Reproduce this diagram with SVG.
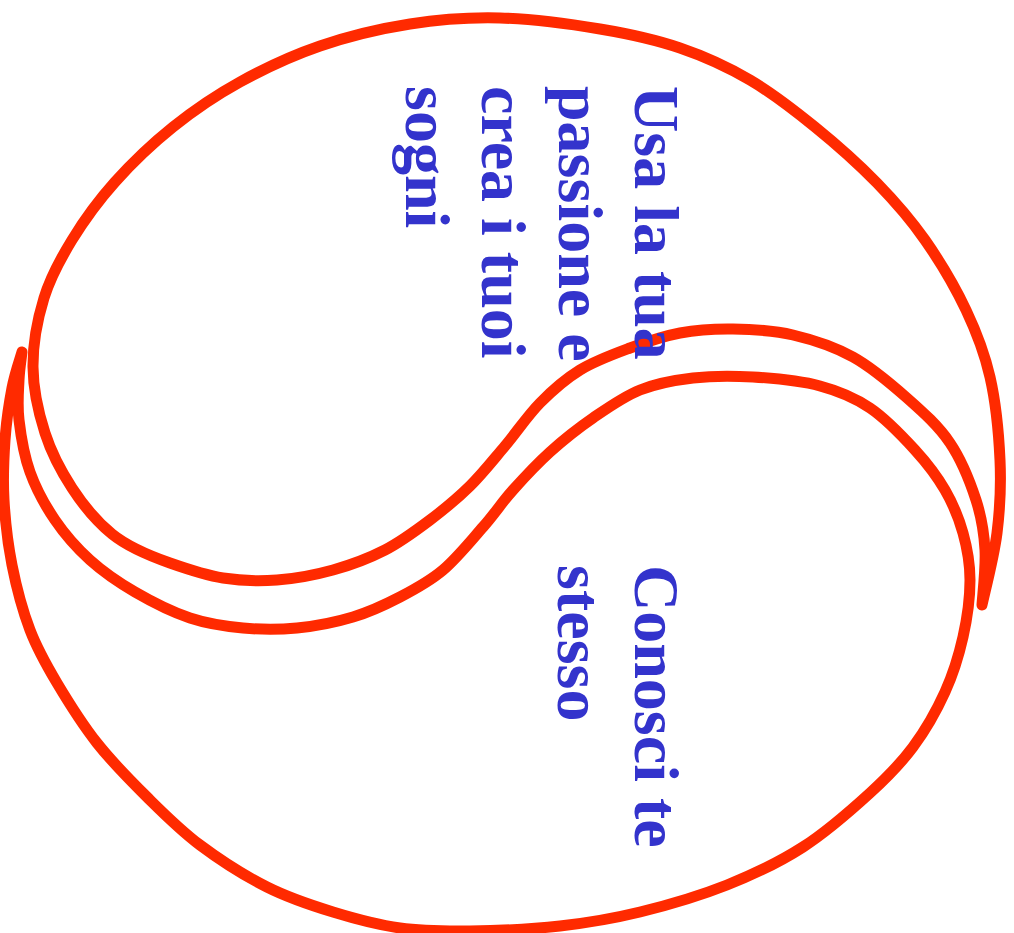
<svg xmlns="http://www.w3.org/2000/svg" width="1014" height="933" viewBox="0 0 1014 933">
<style>
.shape{fill:none;stroke:#ff2a00;stroke-width:11;stroke-linejoin:round;stroke-linecap:round}
.lbl{font-family:"Liberation Serif","Times New Roman",serif;font-weight:bold;font-size:64px;fill:#3333cc}
</style>
<rect width="1014" height="933" fill="#ffffff"/>
<g id="shape-upper">
<path class="shape" d="M982,605 C984.5,593 994,557.2 997,533 S1001.2,486 1000,460 S995.7,402 990,377 S976.8,332.8 966,310 S939.8,261.2 925,240 S895.3,201.8 877,183 S836.2,144.2 815,127 S772.5,93.2 750,80 S705,56.5 680,48 S630,34 600,29 S531.7,18.8 500,18 S440,19.3 410,24 S348.3,36.3 320,46 S264.5,68.5 240,82 S193.8,110.3 173,127 S131.8,163.2 115,182 S83.8,220.7 72,240 S50.5,276.8 44,298 S32.8,344.5 33,367 S38.5,412.8 45,433 S59,468 72,488 S96,521 112,534 S150,556 170,563 S205.2,575.2 223,578 S258.7,581.3 277,580 S315,575 333,570 S368.8,558.3 385,550 S415.8,530.7 430,520 S457.5,498.3 470,486 S493.3,459.8 505,446 S527.5,415.7 540,403 S565,379.2 580,370 S613.3,354.2 630,348 S662.8,336.2 680,333 S714.2,328.7 733,329 S773,330.3 793,335 S834,346.5 853,357 S890.8,383.7 907,398 S938.5,426 950,443 S970.2,482.2 976,500 S984,532.5 985,550 S982.5,595.8 982,605 Z"/>
</g>
<g id="shape-lower">
<path class="shape" d="M22,352 C20.3,358 14.8,373.3 12,388 S6.3,421.3 5,440 S2.8,479.2 4,500 S7.7,543.3 12,565 S22.5,610.3 30,630 S45.8,664.2 57,683 S82,724 97,743 S129.8,780 147,797 S180,830 200,845 S244.8,875.8 267,887 S310.8,905.2 333,912 S377.2,924.8 400,928 S443.3,931.3 470,931 S531.7,929.2 560,926 S612.2,918.8 640,912 S699.8,895.8 727,885 S779.2,862.3 803,847 S851.7,809.7 870,793 S900.5,763.8 913,747 S936.7,710.3 945,692 S958.8,655.7 963,637 S970,597.3 970,580 S967.2,548 963,533 S953,503.8 945,490 S927.5,463.7 915,450 S885.8,418.7 870,408 S839.5,391.2 820,386 S774.2,378.3 753,377 S711.8,375.8 693,378 S656.7,383.3 640,390 S608,407.7 593,418 S563.3,440 550,452 S524.2,477.5 513,490 S494.7,513.7 483,527 S456.8,558.3 443,570 S415,589.2 400,597 S370.2,611.8 353,617 S315.3,626.2 297,628 S260.8,629.7 243,628 S208,624 190,618 S151.7,601.7 135,592 S103.3,572 90,560 S65,534.7 55,520 S36,488.7 30,472 S20.8,435.3 19,420 S18.5,391.3 19,380 S21.5,356.7 22,352 Z"/>
</g>
<g id="label-upper">
<text class="lbl" transform="translate(635,86) rotate(90)"><tspan x="0" y="0">Usa la tua</tspan><tspan x="0" y="76.5">passione e</tspan><tspan x="0" y="153">crea i tuoi</tspan><tspan x="0" y="229.5">sogni</tspan></text>
</g>
<g id="label-lower">
<text class="lbl" transform="translate(635,565) rotate(90)"><tspan x="0" y="0">Conosci te</tspan><tspan x="0" y="77">stesso</tspan></text>
</g>
</svg>
